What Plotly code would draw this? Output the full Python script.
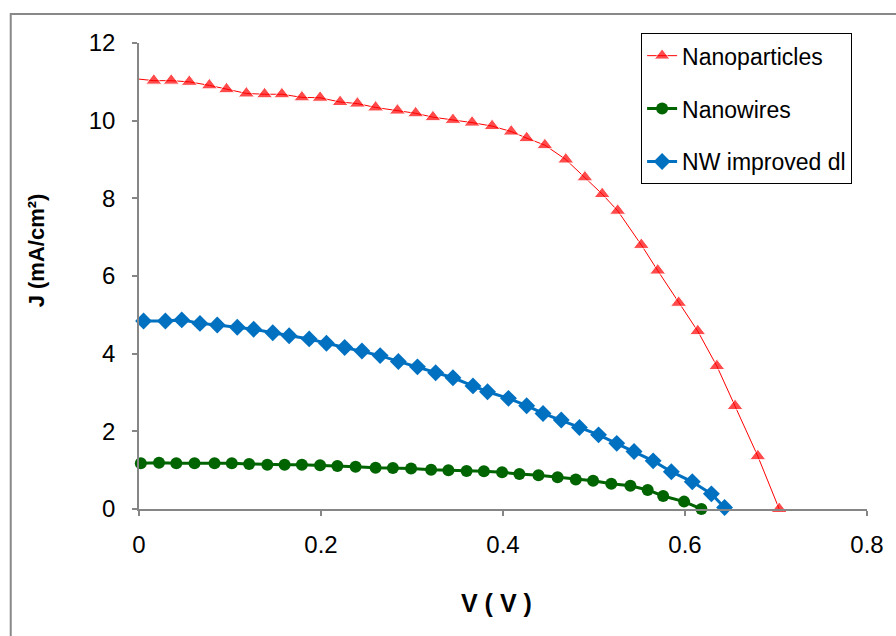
import plotly.graph_objects as go

# ---- data ----
V_np = [0.0, 0.0163, 0.0354, 0.0553, 0.0773, 0.0962, 0.118, 0.138, 0.157, 0.179, 0.199,
        0.221, 0.240, 0.260, 0.284, 0.304, 0.323, 0.345, 0.366, 0.388, 0.409, 0.426,
        0.446, 0.469, 0.490, 0.509, 0.526, 0.552, 0.570, 0.593, 0.614, 0.635, 0.655,
        0.680, 0.7035]
J_np = [11.07, 11.03, 11.03, 11.00, 10.91, 10.81, 10.70, 10.68, 10.68, 10.60, 10.59,
        10.48, 10.44, 10.34, 10.26, 10.19, 10.09, 10.02, 9.95, 9.86, 9.72, 9.55,
        9.37, 9.00, 8.54, 8.11, 7.68, 6.80, 6.14, 5.31, 4.58, 3.68, 2.65,
        1.36, 0.0]

V_nw = [0.002, 0.022, 0.041, 0.061, 0.083, 0.102, 0.121, 0.141, 0.160, 0.179, 0.199,
        0.218, 0.238, 0.260, 0.279, 0.299, 0.321, 0.340, 0.360, 0.379, 0.399, 0.418,
        0.439, 0.460, 0.480, 0.499, 0.519, 0.540, 0.559, 0.576, 0.599, 0.618]
J_nw = [1.18, 1.19, 1.18, 1.18, 1.18, 1.18, 1.16, 1.14, 1.14, 1.14, 1.125,
        1.11, 1.09, 1.06, 1.055, 1.04, 1.01, 1.00, 0.98, 0.97, 0.945, 0.90,
        0.87, 0.82, 0.76, 0.73, 0.65, 0.60, 0.49, 0.335, 0.19, 0.0]

V_nwi = [0.005, 0.029, 0.047, 0.067, 0.086, 0.108, 0.126, 0.147, 0.165, 0.187, 0.206,
         0.226, 0.245, 0.265, 0.285, 0.306, 0.326, 0.345, 0.367, 0.383, 0.406, 0.426,
         0.444, 0.464, 0.484, 0.505, 0.525, 0.544, 0.565, 0.585, 0.608, 0.629, 0.6435]
J_nwi = [4.84, 4.84, 4.87, 4.78, 4.74, 4.68, 4.63, 4.54, 4.46, 4.38, 4.27,
         4.16, 4.07, 3.95, 3.80, 3.66, 3.51, 3.38, 3.17, 3.02, 2.85, 2.66,
         2.46, 2.29, 2.10, 1.91, 1.69, 1.48, 1.24, 0.96, 0.70, 0.39, 0.04]

x_ticks = [0, 0.2, 0.4, 0.6, 0.8]
x_tick_labels = ["0", "0.2", "0.4", "0.6", "0.8"]
y_ticks = [0, 2, 4, 6, 8, 10, 12]
y_tick_labels = ["0", "2", "4", "6", "8", "10", "12"]

FONT = "Arial, Liberation Sans, sans-serif"
AXIS_COLOR = "#868686"

fig = go.Figure()

np_sizes = [0] + [14] * (len(V_np) - 1)
fig.add_trace(go.Scatter(
    x=V_np, y=J_np, name="Nanoparticles", mode="lines+markers",
    line=dict(color="#FF0000", width=1),
    marker=dict(symbol="triangle-up", size=np_sizes, color="#FF0000"),
    cliponaxis=False, legendgroup="a"))
fig.add_trace(go.Scatter(
    x=V_nw, y=J_nw, name="Nanowires", mode="lines+markers",
    line=dict(color="#006400", width=3),
    marker=dict(symbol="circle", size=12, color="#006400"),
    cliponaxis=False, legendgroup="b"))
fig.add_trace(go.Scatter(
    x=V_nwi, y=J_nwi, name="NW improved dl", mode="lines+markers",
    line=dict(color="#0070C0", width=3),
    marker=dict(symbol="diamond", size=13, color="#0070C0"),
    cliponaxis=False, legendgroup="c"))

fig.update_layout(
    width=896, height=636,
    margin=dict(l=139, r=19, t=43, b=127),
    paper_bgcolor="white", plot_bgcolor="white",
    font=dict(family=FONT, color="black", size=23),
    showlegend=True,
    legend=dict(x=0.6897, y=1.021, xanchor="left", yanchor="top",
                bordercolor="black", borderwidth=1, bgcolor="white",
                font=dict(family=FONT, size=23, color="black"),
                itemwidth=30, tracegroupgap=20),
    xaxis=dict(range=[0, 0.8], tickvals=x_ticks, ticktext=x_tick_labels,
               showgrid=False, zeroline=False, showline=True,
               linecolor=AXIS_COLOR, linewidth=1.5,
               ticks="outside", ticklen=5, tickcolor=AXIS_COLOR, tickwidth=1.5,
               tickfont=dict(family=FONT, size=24, color="black"),
               ticklabelstandoff=8),
    yaxis=dict(range=[0, 12], tickvals=y_ticks, ticktext=y_tick_labels,
               showgrid=False, zeroline=False, showline=True,
               linecolor=AXIS_COLOR, linewidth=1.5,
               ticks="outside", ticklen=5, tickcolor=AXIS_COLOR, tickwidth=1.5,
               tickfont=dict(family=FONT, size=24, color="black"),
               ticklabelstandoff=12),
    annotations=[
        dict(text="<b>V ( V )</b>", xref="paper", yref="paper",
             x=0.4905, y=-0.2017, xanchor="center", yanchor="middle",
             showarrow=False, font=dict(family=FONT, size=25, color="black")),
        dict(text="<b>J (mA/cm²)</b>", xref="paper", yref="paper",
             x=-0.1409, y=0.556, xanchor="center", yanchor="middle",
             textangle=-90, showarrow=False,
             font=dict(family=FONT, size=22, color="black")),
    ],
    shapes=[
        dict(type="rect", xref="paper", yref="paper",
             x0=-0.1762, x1=1.05, y0=-0.32, y1=1.0622,
             line=dict(color="#888888", width=2), layer="below"),
    ],
)

fig.write_html("out.html")
